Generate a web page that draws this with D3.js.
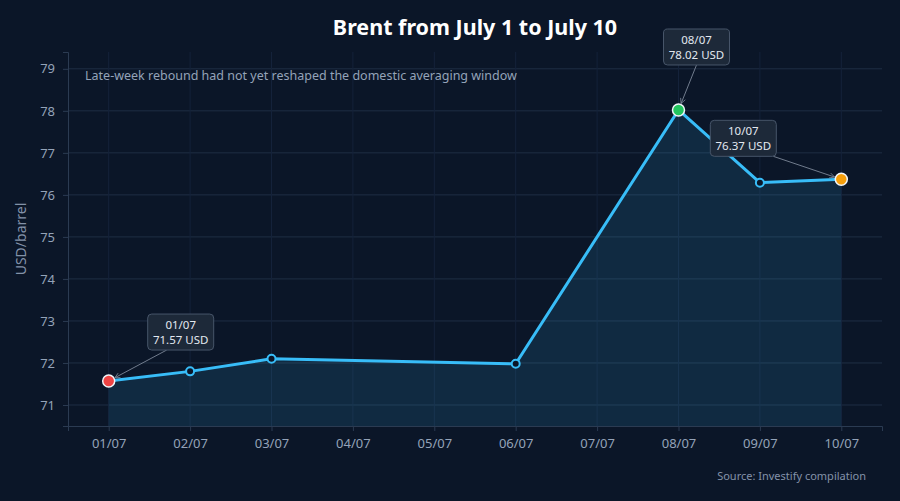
<!DOCTYPE html>
<html>
<head>
<meta charset="utf-8">
<script src="https://cdn.jsdelivr.net/npm/d3@7"></script>
<style>
  html, body { margin: 0; padding: 0; background: #0b1628; }
  svg { display: block; font-family: "Noto Sans", "Open Sans", sans-serif; }
</style>
</head>
<body>
<svg id="chart" width="900" height="501"></svg>
<script>
// categories on the x axis
var DAYS = ['01/07', '02/07', '03/07', '04/07', '05/07', '06/07', '07/07', '08/07', '09/07', '10/07'];
// observed prices (no quotes on 04, 05, 07)
var PRICE_DAYS = ['01/07', '02/07', '03/07', '06/07', '08/07', '09/07', '10/07'];
var PRICES = [71.57, 71.80, 72.10, 71.98, 78.02, 76.29, 76.37];
var Y_TICKS = [71, 72, 73, 74, 75, 76, 77, 78, 79];
// annotated points
var NOTE_DAYS = ['01/07', '08/07', '10/07'];
var NOTE_COLORS = ['#ef4444', '#22c55e', '#f59e0b'];

var svg = d3.select("#chart");
var margin = { top: 52, right: 18, bottom: 75, left: 68 };
var width = +svg.attr("width") - margin.left - margin.right;
var height = +svg.attr("height") - margin.top - margin.bottom;

var data = PRICE_DAYS.map(function (d, i) {
    return { day: d, value: PRICES[i] };
});

svg.append("rect").attr("width", 900).attr("height", 501).attr("fill", "#0b1628");

svg.append("text")
    .attr("x", margin.left + width / 2)
    .attr("y", 35)
    .attr("text-anchor", "middle")
    .attr("fill", "#ffffff")
    .attr("font-size", 21.5)
    .attr("font-weight", "bold")
    .text("Brent from July 1 to July 10");

var g = svg.append("g")
    .attr("transform", "translate(" + margin.left + "," + margin.top + ")");

var x = d3.scalePoint().domain(DAYS).range([0, width]).padding(0.5);
var y = d3.scaleLinear().domain([70.5, 79.4]).range([height, 0]);

// grid
g.selectAll(".hgrid").data(Y_TICKS).enter().append("line")
    .attr("x1", 0).attr("x2", width)
    .attr("y1", function (d) { return y(d); })
    .attr("y2", function (d) { return y(d); })
    .attr("stroke", "#1f2e44").attr("stroke-width", 1);
g.selectAll(".vgrid").data(DAYS).enter().append("line")
    .attr("x1", function (d) { return x(d); })
    .attr("x2", function (d) { return x(d); })
    .attr("y1", 0).attr("y2", height)
    .attr("stroke", "#14223a").attr("stroke-width", 1);

// area + line
var area = d3.area()
    .x(function (d) { return x(d.day); })
    .y0(height)
    .y1(function (d) { return y(d.value); });
g.append("path").datum(data)
    .attr("d", area)
    .attr("fill", "#38bdf8")
    .attr("fill-opacity", 0.12);

var line = d3.line()
    .x(function (d) { return x(d.day); })
    .y(function (d) { return y(d.value); });
g.append("path").datum(data)
    .attr("d", line)
    .attr("fill", "none")
    .attr("stroke", "#38bdf8")
    .attr("stroke-width", 3)
    .attr("stroke-linejoin", "round");

// axes
var xAxis = g.append("g")
    .attr("transform", "translate(0," + height + ")")
    .call(d3.axisBottom(x).tickSize(5).tickPadding(8));
var yAxis = g.append("g")
    .call(d3.axisLeft(y).tickValues(Y_TICKS).tickSize(5).tickPadding(8));
[xAxis, yAxis].forEach(function (a) {
    a.select(".domain").attr("stroke", "#2b3b52");
    a.selectAll(".tick line").attr("stroke", "#2b3b52");
    a.selectAll(".tick text")
        .attr("fill", "#94a3b8")
        .attr("font-size", 13)
        .attr("font-family", "'Noto Sans', sans-serif");
});

svg.append("text")
    .attr("transform", "translate(26," + (margin.top + height / 2) + ") rotate(-90)")
    .attr("text-anchor", "middle")
    .attr("fill", "#8392a8")
    .attr("font-size", 14)
    .text("USD/barrel");

g.append("text")
    .attr("x", 17).attr("y", 28)
    .attr("fill", "#94a3b8")
    .attr("font-size", 12.5)
    .text("Late-week rebound had not yet reshaped the domestic averaging window");

svg.append("text")
    .attr("x", 866).attr("y", 480)
    .attr("text-anchor", "end")
    .attr("fill", "#8392a8")
    .attr("font-size", 11)
    .text("Source: Investify compilation");

// points
g.selectAll(".pt").data(data).enter().append("circle")
    .attr("cx", function (d) { return x(d.day); })
    .attr("cy", function (d) { return y(d.value); })
    .attr("r", function (d) { return NOTE_DAYS.indexOf(d.day) >= 0 ? 6 : 4; })
    .attr("fill", function (d) {
        var k = NOTE_DAYS.indexOf(d.day);
        return k >= 0 ? NOTE_COLORS[k] : "#0b1628";
    })
    .attr("stroke", function (d) {
        return NOTE_DAYS.indexOf(d.day) >= 0 ? "#f1f5f9" : "#38bdf8";
    })
    .attr("stroke-width", function (d) {
        return NOTE_DAYS.indexOf(d.day) >= 0 ? 1.5 : 2;
    });

// annotations
svg.append("defs").append("marker")
    .attr("id", "arrow")
    .attr("viewBox", "0 0 10 10")
    .attr("refX", 9).attr("refY", 5)
    .attr("markerWidth", 7).attr("markerHeight", 7)
    .attr("orient", "auto")
    .append("path")
    .attr("d", "M1,1 L9,5 L1,9")
    .attr("fill", "none")
    .attr("stroke", "#7c8797")
    .attr("stroke-width", 1.2);

// label box offsets relative to the point (box center)
var NOTE_DX = [72, 18, -98];
var NOTE_DY = [-49, -63, -41];
// arrow start on the box bottom edge (relative to box center)
var ARROW_SX = [-14, 0, 30];

NOTE_DAYS.forEach(function (day, i) {
    var d = data.filter(function (p) { return p.day === day; })[0];
    var px = x(d.day), py = y(d.value);
    var cx = px + NOTE_DX[i], cy = py + NOTE_DY[i];
    var bw = 66, bh = 36;
    var sx = cx + ARROW_SX[i], sy = cy + bh / 2;
    var ang = Math.atan2(py - sy, px - sx);
    g.append("line")
        .attr("x1", sx).attr("y1", sy)
        .attr("x2", px - 7 * Math.cos(ang))
        .attr("y2", py - 7 * Math.sin(ang))
        .attr("stroke", "#7c8797")
        .attr("stroke-width", 0.9)
        .attr("marker-end", "url(#arrow)");
    g.append("rect")
        .attr("x", cx - bw / 2).attr("y", cy - bh / 2)
        .attr("width", bw).attr("height", bh)
        .attr("rx", 4)
        .attr("fill", "#1d2939")
        .attr("stroke", "#475569")
        .attr("stroke-width", 1);
    var t = g.append("text")
        .attr("x", cx).attr("y", cy - 3.5)
        .attr("text-anchor", "middle")
        .attr("fill", "#e2e8f0")
        .attr("font-size", 11.5);
    t.append("tspan").attr("x", cx).text(d.day);
    t.append("tspan").attr("x", cx).attr("dy", 15.5).text(d.value.toFixed(2) + " USD");
});
</script>
</body>
</html>
